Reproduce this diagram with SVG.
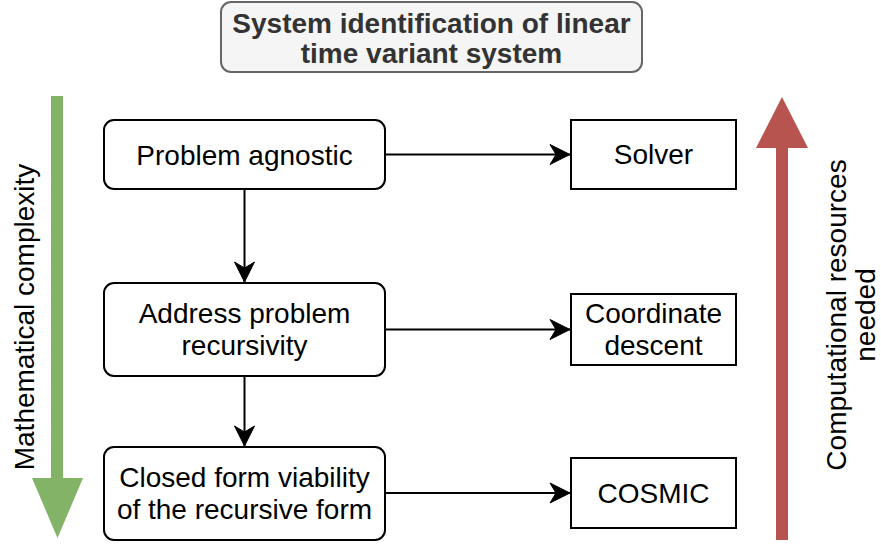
<svg xmlns="http://www.w3.org/2000/svg" width="881" height="544" viewBox="0 0 881 544">
  <style>
    .txt { font-family: "Liberation Sans", Arial, Helvetica, sans-serif; font-size: 28px; fill: #000000; text-anchor: middle; }
    .title { font-weight: bold; fill: #333333; }
    .node { fill: #ffffff; stroke: #000000; stroke-width: 2; }
    .edge { fill: none; stroke: #000000; stroke-width: 2; }
  </style>
  <defs>
    <marker id="arrow" markerUnits="userSpaceOnUse" markerWidth="22" markerHeight="22" viewBox="-21 -11 22 22" refX="0" refY="0" orient="auto">
      <path d="M0,0 L-20,-10 L-14,0 L-20,10 Z" fill="#000000" stroke="#000000" stroke-width="1"/>
    </marker>
  </defs>

  <rect width="881" height="544" fill="#ffffff"/>

  <!-- Title -->
  <g id="title">
    <rect x="221" y="2" width="421" height="70" rx="10" ry="10" fill="#f5f5f5" stroke="#666666" stroke-width="2"/>
    <text class="txt title" x="431.5" y="33">System identification of linear</text>
    <text class="txt title" x="431.5" y="63">time variant system</text>
  </g>

  <!-- Side scale arrows -->
  <g id="math-complexity">
    <path d="M51,96 H63 V478 H83 L57.5,538 L32,478 H51 Z" fill="#82b366"/>
    <text class="txt" transform="translate(34,317) rotate(-90)" x="0" y="0">Mathematical complexity</text>
  </g>
  <g id="computational-resources">
    <path d="M776,540 V148 H756 L782,97 L808,148 H788 V540 Z" fill="#b85450"/>
    <text class="txt" transform="translate(846,315) rotate(-90)" x="0" y="0">Computational resources</text>
    <text class="txt" transform="translate(875,315) rotate(-90)" x="0" y="0">needed</text>
  </g>

  <!-- Method nodes -->
  <g id="problem-agnostic">
    <rect class="node" x="104" y="120" width="281" height="69" rx="10" ry="10"/>
    <text class="txt" x="244.5" y="165">Problem agnostic</text>
  </g>
  <g id="address-recursivity">
    <rect class="node" x="104" y="283" width="281" height="93" rx="10" ry="10"/>
    <text class="txt" x="244.5" y="323">Address problem</text>
    <text class="txt" x="244.5" y="355">recursivity</text>
  </g>
  <g id="closed-form">
    <rect class="node" x="104" y="447" width="281" height="93" rx="10" ry="10"/>
    <text class="txt" x="244.5" y="487">Closed form viability</text>
    <text class="txt" x="244.5" y="519">of the recursive form</text>
  </g>

  <!-- Algorithm nodes -->
  <g id="solver">
    <rect class="node" x="571" y="120" width="165" height="69"/>
    <text class="txt" x="653.5" y="164">Solver</text>
  </g>
  <g id="coordinate-descent">
    <rect class="node" x="571" y="294" width="165" height="71"/>
    <text class="txt" x="653.5" y="323">Coordinate</text>
    <text class="txt" x="653.5" y="355">descent</text>
  </g>
  <g id="cosmic">
    <rect class="node" x="571" y="458" width="165" height="70"/>
    <text class="txt" x="653.5" y="503">COSMIC</text>
  </g>

  <!-- Connectors -->
  <g id="connectors">
    <line class="edge" x1="244.5" y1="189" x2="244.5" y2="282" marker-end="url(#arrow)"/>
    <line class="edge" x1="244.5" y1="376" x2="244.5" y2="446" marker-end="url(#arrow)"/>
    <line class="edge" x1="385" y1="154.5" x2="570" y2="154.5" marker-end="url(#arrow)"/>
    <line class="edge" x1="385" y1="329.5" x2="570" y2="329.5" marker-end="url(#arrow)"/>
    <line class="edge" x1="385" y1="493" x2="570" y2="493" marker-end="url(#arrow)"/>
  </g>
</svg>
